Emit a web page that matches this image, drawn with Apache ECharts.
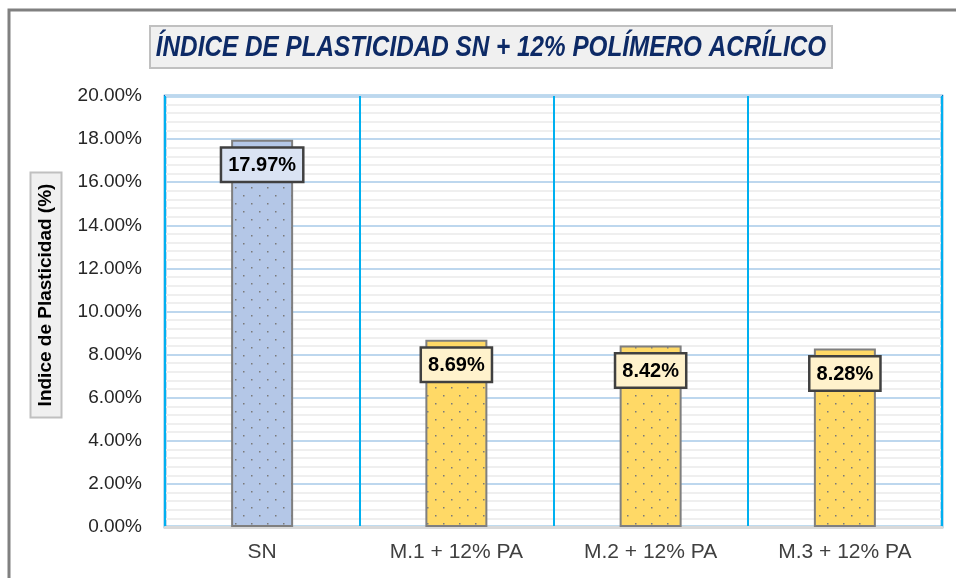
<!DOCTYPE html>
<html>
<head>
<meta charset="utf-8">
<script src="https://cdn.jsdelivr.net/npm/echarts@6/dist/echarts.min.js"></script>
<style>
html,body{margin:0;padding:0;background:#fff;}
#chart{width:956px;height:578px;}
</style>
</head>
<body>
<div id="chart"></div>
<script>
var categories = ['SN', 'M.1 + 12% PA', 'M.2 + 12% PA', 'M.3 + 12% PA'];
var values = [17.97, 8.69, 8.42, 8.28];
var barColors = ['#b4c7e7', '#ffd966', '#ffd966', '#ffd966'];
var labelColors = ['#dae3f3', '#fff2cc', '#fff2cc', '#fff2cc'];
var titleText = 'ÍNDICE DE PLASTICIDAD SN + 12% POLÍMERO ACRÍLICO';
var yAxisTitle = 'Indice de Plasticidad (%)';

var FONT = '"Liberation Sans", Arial, sans-serif';

function dotPattern(bg) {
  var c = document.createElement('canvas');
  c.width = 16; c.height = 16;
  var g = c.getContext('2d');
  g.fillStyle = bg; g.fillRect(0, 0, 16, 16);
  g.fillStyle = '#7a7a7a';
  g.fillRect(3, 3, 1.5, 1.5);
  g.fillRect(11, 11, 1.5, 1.5);
  return c;
}

var chart = echarts.init(document.getElementById('chart'));
var data = values.map(function (v, i) {
  return {
    value: v,
    itemStyle: { color: { image: dotPattern(barColors[i]), repeat: 'repeat' } },
    label: { backgroundColor: labelColors[i] }
  };
});

chart.setOption({
  animation: false,
  backgroundColor: '#ffffff',
  graphic: [
    { type: 'rect', shape: { x: 9, y: 10, width: 1000, height: 600 }, style: { fill: 'none', stroke: '#808080', lineWidth: 3 }, z: 100 },
    { type: 'rect', shape: { x: 150, y: 26, width: 682, height: 42 }, style: { fill: '#f0f0f0', stroke: '#c0c0c0', lineWidth: 2 } },
    { type: 'text', x: 491, y: 48, scaleX: 0.81,
      style: { text: titleText, fontFamily: FONT, fontSize: 30, fontWeight: 'bold', fontStyle: 'italic', fill: '#0d2a66',
        align: 'center', verticalAlign: 'middle' } },
    { type: 'text', x: 46, y: 295, rotation: Math.PI / 2,
      style: { text: yAxisTitle, fontFamily: FONT, fontSize: 19, fontWeight: 'bold', fill: '#000',
        align: 'center', verticalAlign: 'middle', backgroundColor: '#f0f0f0', borderColor: '#c0c0c0', borderWidth: 2, padding: [6, 10, 4, 10] } }
  ],
  grid: { left: 165, right: 14, top: 96, bottom: 51, show: true, borderColor: '#0070c0', borderWidth: 2.5, backgroundColor: 'transparent' },
  xAxis: {
    type: 'category', data: categories,
    axisLine: { show: true, lineStyle: { color: '#d9d9d9', width: 3 } },
    axisTick: { show: false },
    splitLine: { show: true, lineStyle: { color: '#00b0f0', width: 2 } },
    axisLabel: { fontFamily: FONT, fontSize: 21, color: '#404040', margin: 15 }
  },
  yAxis: {
    type: 'value', min: 0, max: 20, interval: 2,
    axisLine: { show: false }, axisTick: { show: false },
    axisLabel: { fontFamily: FONT, fontSize: 19, color: '#262626', margin: 23,
      formatter: function (v) { return v.toFixed(2) + '%'; } },
    splitLine: { show: true, lineStyle: { color: '#bdd7ee', width: 2 } },
    minorTick: { show: false, splitNumber: 5 },
    minorSplitLine: { show: true, lineStyle: { color: '#efefef', width: 2 } }
  },
  series: [{
    type: 'bar', data: data, barWidth: 62,
    itemStyle: { borderColor: '#7f7f7f', borderWidth: 2 },
    label: {
      show: true, position: 'insideTop', distance: 9,
      formatter: function (p) { return p.value.toFixed(2) + '%'; },
      fontFamily: FONT, fontSize: 20, fontWeight: 'bold', color: '#000',
      borderColor: '#404040', borderWidth: 2.5, padding: [7, 6, 5, 6]
    }
  }]
});
</script>
</body>
</html>
